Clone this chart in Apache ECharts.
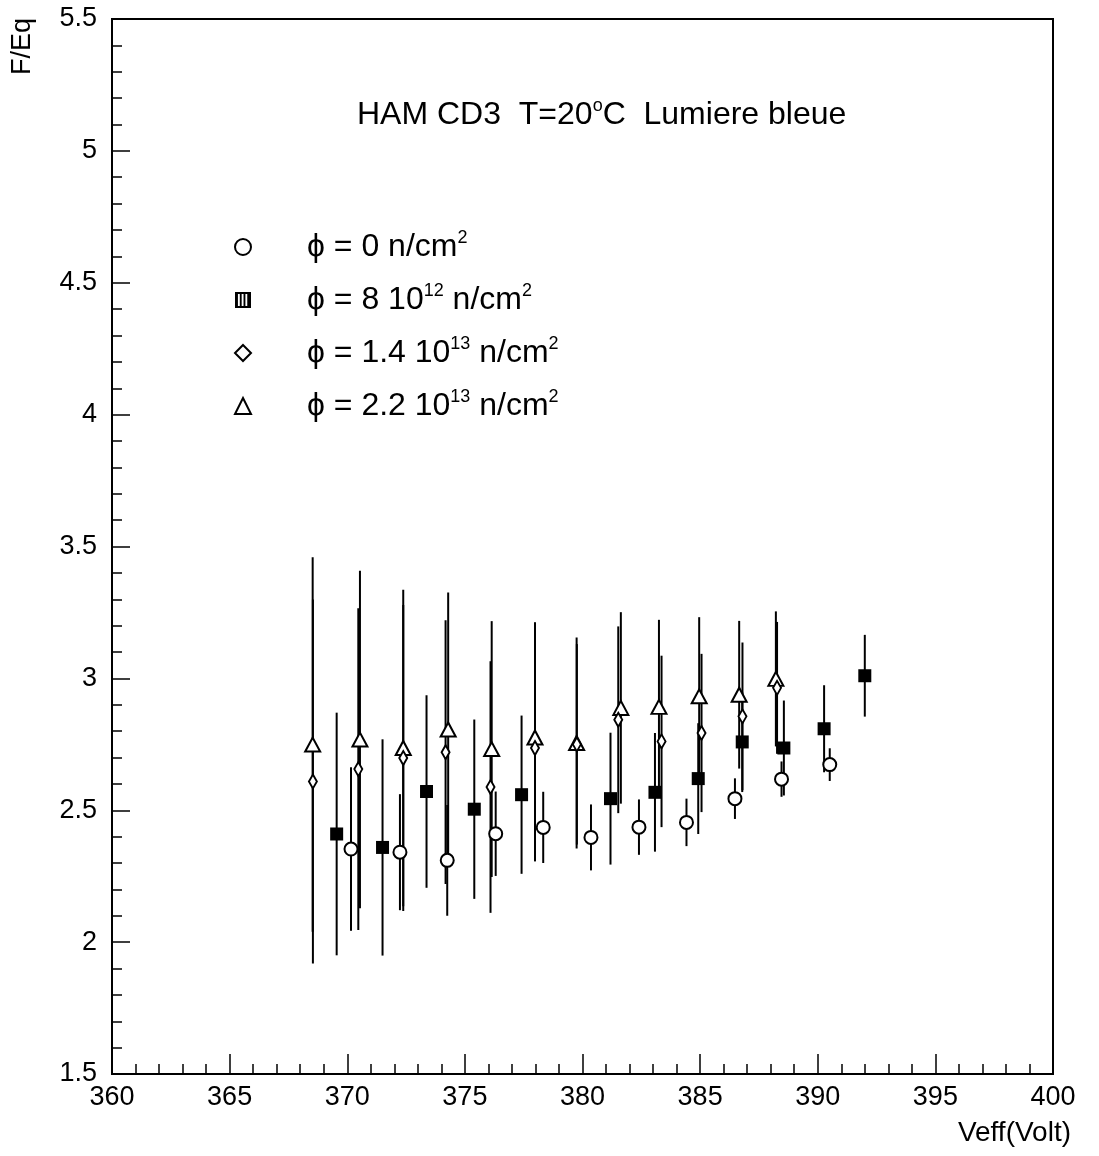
<!DOCTYPE html>
<html>
<head>
<meta charset="utf-8">
<script src="https://cdn.jsdelivr.net/npm/echarts@6/dist/echarts.min.js"></script>
<style>
  html, body { margin: 0; padding: 0; background: #fff; }
  #chart { width: 1099px; height: 1156px; }
</style>
</head>
<body>
<div id="chart"></div>
<script>
// ---- Data ----
const xTicks = [360, 365, 370, 375, 380, 385, 390, 395, 400];
const yTicks = [1.5, 2, 2.5, 3, 3.5, 4, 4.5, 5, 5.5];

// phi = 0 n/cm2 (open circles)
const xCircle = [370.16, 372.24, 374.25, 376.31, 378.33, 380.36, 382.40, 384.42, 386.48, 388.46, 390.51];
const yCircle = [2.353, 2.341, 2.31, 2.411, 2.435, 2.397, 2.436, 2.454, 2.544, 2.618, 2.673];
const eCircle = [0.31, 0.22, 0.21, 0.16, 0.135, 0.125, 0.105, 0.09, 0.077, 0.067, 0.062];

// phi = 8 10^12 n/cm2 (filled squares)
const xSquare = [369.55, 371.50, 373.37, 375.40, 377.41, 381.19, 383.08, 384.92, 386.79, 388.56, 390.27, 392.0];
const ySquare = [2.41, 2.359, 2.571, 2.504, 2.559, 2.544, 2.568, 2.62, 2.759, 2.736, 2.809, 3.01];
const eSquare = [0.46, 0.41, 0.365, 0.34, 0.30, 0.25, 0.225, 0.21, 0.19, 0.18, 0.165, 0.155];

// phi = 1.4 10^13 n/cm2 (open diamonds)
const xDiamond = [368.54, 370.47, 372.38, 374.18, 376.09, 377.98, 379.76, 381.52, 383.36, 385.06, 386.80, 388.27];
const yDiamond = [2.609, 2.656, 2.698, 2.72, 2.588, 2.736, 2.75, 2.843, 2.761, 2.793, 2.856, 2.964];
const eDiamond = [0.69, 0.61, 0.58, 0.5, 0.477, 0.43, 0.38, 0.354, 0.325, 0.3, 0.28, 0.25];

// phi = 2.2 10^13 n/cm2 (open triangles)
const xTriangle = [368.53, 370.54, 372.38, 374.29, 376.14, 377.98, 379.75, 381.63, 383.25, 384.96, 386.66, 388.22];
const yTriangle = [2.749, 2.768, 2.736, 2.806, 2.732, 2.776, 2.755, 2.888, 2.892, 2.932, 2.938, 2.998];
const eTriangle = [0.71, 0.64, 0.6, 0.52, 0.485, 0.437, 0.40, 0.363, 0.33, 0.30, 0.28, 0.256];

const seriesNames = ['phi0', 'phi8e12', 'phi1.4e13', 'phi2.2e13'];
const legendLabels = [
  ['ϕ = 0 n/cm', '2'],
  ['ϕ = 8 10', '12', ' n/cm', '2'],
  ['ϕ = 1.4 10', '13', ' n/cm', '2'],
  ['ϕ = 2.2 10', '13', ' n/cm', '2']
];
const titleText = ['HAM CD3  T=20', 'o', 'C  Lumiere bleue'];

// ---- Build ----
const FONT = '"Liberation Sans", Arial, Helvetica, sans-serif';
function pts(xs, ys) { return xs.map((x, i) => [x, ys[i]]); }
function bars(xs, ys, es) { return xs.map((x, i) => [x, ys[i] - es[i], ys[i] + es[i]]); }

function errSeries(name, data) {
  return {
    type: 'custom', name: name + '_err', data: data, z: 2,
    encode: { x: 0, y: [1, 2] },
    renderItem: function (params, api) {
      const p1 = api.coord([api.value(0), api.value(1)]);
      const p2 = api.coord([api.value(0), api.value(2)]);
      return { type: 'line', shape: { x1: p1[0], y1: p1[1], x2: p2[0], y2: p2[1] },
               style: { stroke: '#000', lineWidth: 2 } };
    }
  };
}
const openStyle = { color: '#fff', borderColor: '#000', borderWidth: 2, opacity: 1 };

function legendFmt(name) {
  const parts = legendLabels[seriesNames.indexOf(name)];
  let s = '';
  parts.forEach((p, i) => {
    if (i === 0) s += '{first|' + p + '}';
    else if (i % 2 === 1) s += '{sup|' + p + '}';
    else s += '{t|' + p + '}';
  });
  return s;
}

const hatchIcon = 'path://M0,0h12v1.5h-12z M0,10.5h12v1.5h-12z M0,0h2.2v12h-2.2z M3.6,0h1.4v12h-1.4z M6.4,0h1.4v12h-1.4z M9.2,0h2.8v12h-2.8z';

const chart = echarts.init(document.getElementById('chart'));
chart.setOption({
  backgroundColor: '#fff',
  animation: false,
  title: {
    text: '{t|' + titleText[0] + '}{sup|' + titleText[1] + '}{t|' + titleText[2] + '}',
    left: 352, top: 92,
    textStyle: {
      fontFamily: FONT, fontWeight: 'normal', fontSize: 32, color: '#000',
      rich: {
        t: { fontFamily: FONT, fontSize: 32, color: '#000', lineHeight: 36 },
        sup: { fontFamily: FONT, fontSize: 18, color: '#000', lineHeight: 20, verticalAlign: 'top' }
      }
    }
  },
  legend: {
    orient: 'vertical', left: 229, top: 224, itemGap: 19,
    itemWidth: 16, itemHeight: 16,
    data: [
      { name: seriesNames[0], icon: 'circle' },
      { name: seriesNames[1], icon: hatchIcon },
      { name: seriesNames[2], icon: 'diamond', itemWidth: 9 },
      { name: seriesNames[3], icon: 'triangle' }
    ],
    formatter: legendFmt,
    textStyle: {
      fontFamily: FONT, fontSize: 32, color: '#000',
      rich: {
        first: { fontFamily: FONT, fontSize: 32, color: '#000', lineHeight: 36, padding: [0, 0, 0, 51] },
        t: { fontFamily: FONT, fontSize: 32, color: '#000', lineHeight: 36 },
        sup: { fontFamily: FONT, fontSize: 18, color: '#000', lineHeight: 20, verticalAlign: 'top' }
      }
    }
  },
  grid: { left: 112, right: 46, top: 19, bottom: 82, show: true, borderColor: '#000', borderWidth: 2, backgroundColor: 'transparent' },
  xAxis: {
    type: 'value', min: xTicks[0], max: xTicks[xTicks.length - 1], interval: 5,
    axisLine: { lineStyle: { color: '#000', width: 2 } },
    axisTick: { inside: true, length: 20, lineStyle: { color: '#000', width: 1.5 } },
    minorTick: { show: true, splitNumber: 5, length: 10, lineStyle: { color: '#000', width: 1.5 } },
    axisLabel: { color: '#000', fontFamily: FONT, fontSize: 27, margin: 10 },
    splitLine: { show: false }
  },
  yAxis: {
    type: 'value', min: yTicks[0], max: yTicks[yTicks.length - 1], interval: 0.5,
    axisLine: { show: true, lineStyle: { color: '#000', width: 2 } },
    axisTick: { show: true, inside: true, length: 18, lineStyle: { color: '#000', width: 1.5 } },
    minorTick: { show: true, splitNumber: 5, length: 10, lineStyle: { color: '#000', width: 1.5 } },
    axisLabel: { color: '#000', fontFamily: FONT, fontSize: 27, margin: 15 },
    splitLine: { show: false }
  },
  graphic: [
    { type: 'text', left: 9, top: 18, rotation: Math.PI / 2,
      style: { text: 'F/Eq', font: '27px ' + FONT, fill: '#000' } },
    { type: 'text', right: 28, top: 1119,
      style: { text: 'Veff(Volt)', font: '28px ' + FONT, fill: '#000' } }
  ],
  series: [
    errSeries('c', bars(xCircle, yCircle, eCircle)),
    errSeries('s', bars(xSquare, ySquare, eSquare)),
    errSeries('d', bars(xDiamond, yDiamond, eDiamond)),
    errSeries('t', bars(xTriangle, yTriangle, eTriangle)),
    { type: 'scatter', name: seriesNames[3], data: pts(xTriangle, yTriangle), symbol: 'triangle',
      symbolSize: [15, 14], itemStyle: openStyle, z: 5 },
    { type: 'scatter', name: seriesNames[2], data: pts(xDiamond, yDiamond), symbol: 'diamond',
      symbolSize: [8, 14], itemStyle: openStyle, z: 6 },
    { type: 'scatter', name: seriesNames[1], data: pts(xSquare, ySquare), symbol: 'rect',
      symbolSize: 13, itemStyle: { color: '#000', opacity: 1 }, z: 7 },
    { type: 'scatter', name: seriesNames[0], data: pts(xCircle, yCircle), symbol: 'circle',
      symbolSize: 13, itemStyle: openStyle, z: 8 }
  ]
});
</script>
</body>
</html>
